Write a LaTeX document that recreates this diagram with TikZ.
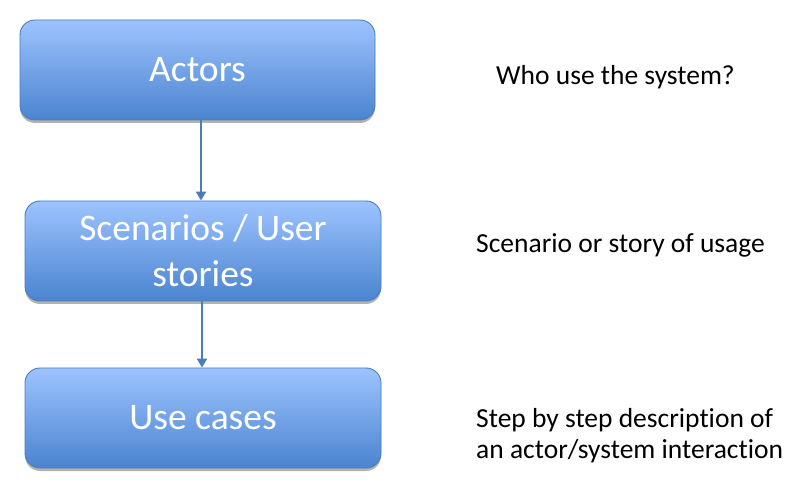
\documentclass[tikz,border=0pt]{standalone}
\usepackage{fontspec}
\setmainfont{Carlito}[Ligatures=NoCommon]
\usetikzlibrary{shadows,arrows.meta}
\definecolor{boxtop}{HTML}{9DC3FE}
\definecolor{boxbot}{HTML}{4A84D0}
\definecolor{boxline}{HTML}{4A7EBB}
\definecolor{arrowcol}{HTML}{4A7EBB}
\tikzset{
  bigbox/.style={draw=boxline, line width=0.9pt, rounded corners=15pt,
    top color=boxtop, bottom color=boxbot, minimum height=100pt,
    text=white, align=center, inner sep=0pt,
    font=\fontsize{37.5}{46}\selectfont,
    drop shadow={opacity=0.3, shadow xshift=0pt, shadow yshift=-3pt, fill=black}},
  desc/.style={anchor=base west, align=left, inner sep=0pt,
    font=\fontsize{27.5}{30.5}\selectfont, text=black},
  link/.style={draw=arrowcol, line width=2.7pt, -{Triangle[length=9pt,width=10pt]}}
}
\begin{document}
\begin{tikzpicture}[x=1pt,y=1pt]
\useasboundingbox (0,0) rectangle (812,488);
\node[bigbox, minimum width=355pt] (actors) at (197.5,418) {Actors};
\node[bigbox, minimum width=356pt] (scen) at (203,237) {Scenarios / User\\stories};
\node[bigbox, minimum width=356pt] (uses) at (203,70) {Use cases};
\node[desc] (d1) at (496,403) {Who use the system?};
\node[desc] (d2) at (476,235) {Scenario or story of usage};
\node[desc] (d3) at (476,30) {Step by step description of\\an actor/system interaction};
\draw[link] (actors.south -| 201,0) -- (scen.north -| 201,0);
\draw[link] (scen.south -| 202,0) -- (uses.north -| 202,0);
\end{tikzpicture}
\end{document}
